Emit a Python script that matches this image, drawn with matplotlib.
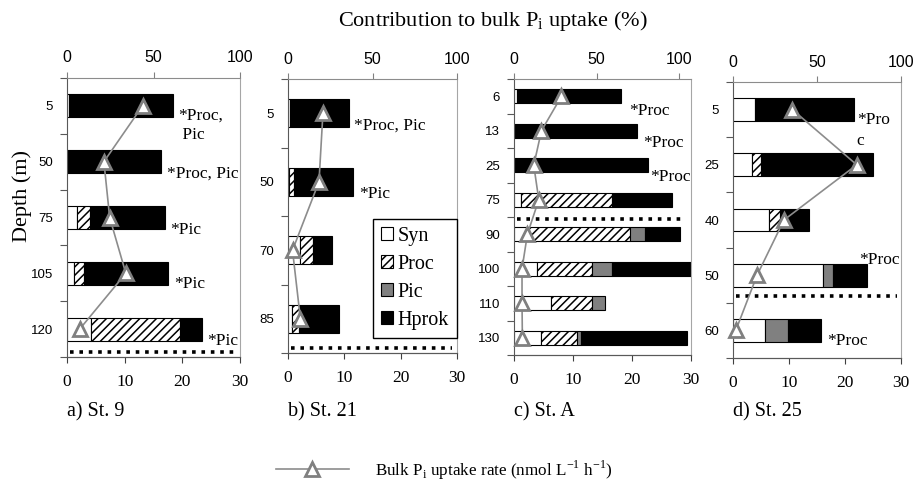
import numpy as np
import matplotlib.pyplot as plt
from matplotlib.patches import Patch
from matplotlib.lines import Line2D

plt.rcParams['font.family'] = ['Liberation Serif', 'DejaVu Serif']
plt.rcParams['hatch.linewidth'] = 1.1
plt.rcParams['hatch.color'] = 'black'

# ---- data ----
# contributions (%) of each group, top axis; bulk rate (nmol/L/h), bottom axis
st9_depth = ['5', '50', '75', '105', '120']
st9_syn = [1.2, 0.8, 5.8, 3.9, 14.1]
st9_proc = [0, 0, 7.7, 5.8, 51.2]
st9_pic = [0, 0, 0, 0, 0]
st9_hprok = [59.8, 53.8, 43.1, 48.8, 12.7]
st9_bulk = [13.1, 6.4, 7.4, 10.2, 2.2]

st21_depth = ['5', '50', '70', '85']
st21_syn = [1.4, 0.4, 6.9, 2.4]
st21_proc = [0, 3.2, 7.9, 4.0]
st21_pic = [0, 0, 0, 0]
st21_hprok = [34.6, 35.0, 11.1, 23.5]
st21_bulk = [6.2, 5.5, 0.8, 2.2]

stA_depth = ['6', '13', '25', '75', '90', '100', '110', '130']
stA_syn = [2.0, 0.8, 0.3, 4.0, 9.1, 13.9, 22.6, 16.6]
stA_proc = [0, 0, 0, 55.0, 61.0, 33.5, 24.8, 21.2]
stA_pic = [0, 0, 0, 0, 9.1, 11.9, 7.7, 2.6]
stA_hprok = [62.8, 73.3, 80.9, 36.6, 21.4, 48.0, 0, 64.4]
stA_bulk = [8.05, 4.65, 3.35, 4.2, 2.27, 1.36, 1.36, 1.42]

st25_depth = ['5', '25', '40', '50', '60']
st25_syn = [13.3, 11.5, 21.2, 53.6, 19.2]
st25_proc = [0, 5.4, 6.9, 0, 0]
st25_pic = [0, 0, 0, 6.0, 13.3]
st25_hprok = [58.7, 66.6, 17.1, 20.4, 19.6]
st25_bulk = [10.6, 22.1, 9.1, 4.3, 0.5]

# dotted line position (in rows, between depth categories)
mld_row = [4.41, 3.42, 3.55, 3.37]

panel_titles = ['a) St. 9', 'b) St. 21', 'c) St. A', 'd) St. 25']

# significance notes: (row, text, dx, dy in points)
st9_notes = [(0, '*Proc,\n Pic', 4, -1), (1, '*Proc, Pic', 4, -3), (2, '*Pic', 4, -3),
             (3, '*Pic', 4, -2), (4, '*Pic', 4, -3)]
st21_notes = [(0, '*Proc, Pic', 4, -3), (1, '*Pic', 4, -3)]
stA_notes = [(0, '*Proc', 6, -5), (1, '*Proc', 5, -3), (2, '*Proc', 1, -3)]
st25_notes = [(0, '*Pro\nc', 2, -2), (3, '*Proc', -6, 17), (4, '*Proc', 5, -2)]

panels = [
    (st9_depth, st9_syn, st9_proc, st9_pic, st9_hprok, st9_bulk, st9_notes, 100),
    (st21_depth, st21_syn, st21_proc, st21_pic, st21_hprok, st21_bulk, st21_notes, 100),
    (stA_depth, stA_syn, stA_proc, stA_pic, stA_hprok, stA_bulk, stA_notes, 107),
    (st25_depth, st25_syn, st25_proc, st25_pic, st25_hprok, st25_bulk, st25_notes, 100),
]

# axes boxes in pixels: left, right, top, bottom
W, H = 917, 482
boxes = [(67, 240, 78, 357), (288, 457, 79, 353), (514, 691, 79, 355), (733, 901, 82, 358)]

group_styles = [
    dict(color='white', edgecolor='black'),
    dict(color='white', edgecolor='black', hatch='////'),
    dict(color='#808080', edgecolor='black'),
    dict(color='black', edgecolor='black'),
]

fig = plt.figure(figsize=(W / 100, H / 100), dpi=100)

for i, (depth, syn, proc, pic, hprok, bulk, notes, xmax) in enumerate(panels):
    l, r, t, b = boxes[i]
    ax = fig.add_axes([l / W, 1 - b / H, (r - l) / W, (b - t) / H])
    ax2 = ax.twiny()
    n = len(depth)
    y = np.arange(n)

    # stacked bars (top axis, %)
    left = np.zeros(n)
    for vals, st in zip([syn, proc, pic, hprok], group_styles):
        vals = np.array(vals, dtype=float)
        m = vals > 0
        ax.barh(y[m], vals[m], left=left[m], height=0.41, linewidth=0.8, **st)
        left += vals
    totals = left

    ax.set_xlim(0, xmax)
    ax.set_ylim(n - 0.5, -0.5)
    ax.xaxis.tick_top()
    ax.set_xticks([0, 50, 100])
    ax.tick_params(axis='x', which='major', direction='out', length=4, pad=5,
                   labelsize=11.5, colors='#808080', labelcolor='black')
    for lab in ax.get_xticklabels():
        lab.set_fontfamily('Liberation Sans')

    # category axis: ticks at boundaries, labels at centres
    ax.set_yticks(np.arange(n + 1) - 0.5)
    ax.set_yticklabels([])
    ax.set_yticks(y, minor=True)
    ax.set_yticklabels(depth, minor=True, fontfamily='Liberation Sans', fontsize=9.5)
    ax.tick_params(axis='y', which='major', length=5, color='#595959')
    ax.tick_params(axis='y', which='minor', length=0, pad=10)

    ax.spines['left'].set_color('#595959')
    ax.spines['top'].set_color('#8c8c8c')
    ax.spines['right'].set_color('#a6a6a6')
    ax.spines['bottom'].set_color('#595959')

    for row, txt, dx, dy in notes:
        ax.annotate(txt, xy=(totals[row], row), xytext=(dx, dy), textcoords='offset points',
                    ha='left', va='top', fontsize=12.5, linespacing=1.35, annotation_clip=False)

    # bulk uptake rate (bottom axis)
    ax2.xaxis.tick_bottom()
    ax2.set_xlim(0, 30)
    ax2.set_xticks([0, 10, 20, 30])
    ax2.tick_params(axis='x', direction='out', length=4, pad=8, labelsize=12.5,
                    colors='#404040', labelcolor='black')
    for s in ['left', 'right', 'top']:
        ax2.spines[s].set_visible(False)
    ax2.spines['bottom'].set_color('#595959')

    ax2.hlines(mld_row[i], 0.5, 29.2, colors='black', linewidth=2.6,
               linestyles=(0, (1, 1.6)))
    ax2.plot(bulk, y, '-^', color='#8c8c8c', lw=1.2, ms=10, mfc='white',
             mec='#808080', mew=2, zorder=5, clip_on=False)

    fig.text(l / W, 1 - 412 / H, panel_titles[i], fontsize=14.5, ha='left', va='center')

    if i == 1:
        handles = [Patch(facecolor=st['color'], edgecolor='black', hatch=st.get('hatch'),
                         linewidth=0.8) for st in group_styles]
        leg = ax2.legend(handles, ['Syn', 'Proc', 'Pic', 'Hprok'], loc='lower right',
                         bbox_to_anchor=(1.0, 0.055), borderaxespad=0, fontsize=14.5,
                         handlelength=0.6, handleheight=0.6, handletextpad=0.25,
                         labelspacing=0.45, borderpad=0.4, fancybox=False,
                         edgecolor='black', framealpha=1)
        leg.get_frame().set_linewidth(1.0)

fig.text(493 / W, 1 - 21 / H, r'Contribution to bulk P$_\mathregular{i}$ uptake (%)',
         fontsize=16, ha='center', va='center')
fig.text(22 / W, 1 - 196 / H, 'Depth (m)', fontsize=16, rotation=90,
         ha='center', va='center')

bulk_handle = Line2D([], [], color='#8c8c8c', lw=1.2, marker='^', ms=10,
                     mfc='white', mec='#808080', mew=2)
fig.legend([bulk_handle],
           [r'Bulk P$_\mathregular{i}$ uptake rate (nmol L$^\mathregular{-1}$ h$^\mathregular{-1}$)'],
           loc='center', bbox_to_anchor=(444 / W, 1 - 470 / H), frameon=False,
           fontsize=12.3, handlelength=4.3, handletextpad=1.5)

fig.savefig('out.png', dpi=100)
